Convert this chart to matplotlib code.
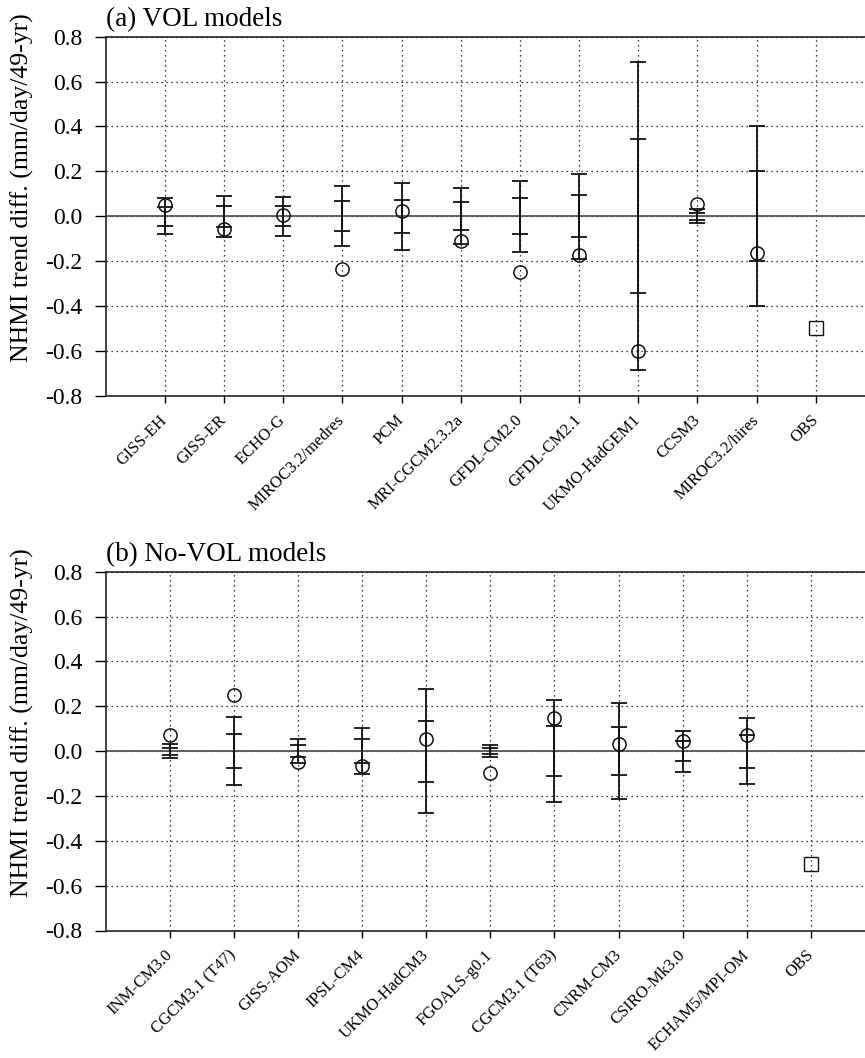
import matplotlib
matplotlib.use("Agg")
import matplotlib.pyplot as plt
import numpy as np

plt.rcParams['font.family'] = ['Liberation Serif', 'DejaVu Serif']
plt.rcParams['axes.unicode_minus'] = False

# ---- data ----
vol_models = ["GISS-EH", "GISS-ER", "ECHO-G", "MIROC3.2/medres", "PCM",
              "MRI-CGCM2.3.2a", "GFDL-CM2.0", "GFDL-CM2.1", "UKMO-HadGEM1",
              "CCSM3", "MIROC3.2/hires"]
vol_values = [0.052, -0.058, 0.006, -0.236, 0.025, -0.111, -0.250, -0.174,
              -0.599, 0.055, -0.163]
vol_outer = [0.080, 0.092, 0.087, 0.134, 0.149, 0.125, 0.158, 0.189, 0.686,
             0.030, 0.401]
vol_inner = [0.042, 0.047, 0.044, 0.067, 0.073, 0.062, 0.079, 0.094, 0.343,
             0.015, 0.200]
vol_obs = -0.50

novol_models = ["INM-CM3.0", "CGCM3.1 (T47)", "GISS-AOM", "IPSL-CM4",
                "UKMO-HadCM3", "FGOALS-g0.1", "CGCM3.1 (T63)", "CNRM-CM3",
                "CSIRO-Mk3.0", "ECHAM5/MPI-OM"]
novol_values = [0.073, 0.252, -0.050, -0.066, 0.054, -0.098, 0.146, 0.030,
                0.045, 0.070]
novol_outer = [0.030, 0.150, 0.054, 0.103, 0.276, 0.025, 0.228, 0.215, 0.091,
               0.148]
novol_inner = [0.016, 0.075, 0.028, 0.052, 0.136, 0.012, 0.113, 0.106, 0.046,
               0.074]
novol_obs = -0.504

yticks = [-0.8, -0.6, -0.4, -0.2, 0.0, 0.2, 0.4, 0.6, 0.8]
ylabel = "NHMI trend diff. (mm/day/49-yr)"

W, H = 865, 1058
fig = plt.figure(figsize=(W / 100, H / 100), dpi=100)

left = 105.7 / W
right = 875.0 / W
width = right - left
ax_w_px = 875.0 - 105.7


def panel(top_px, bot_px, models, values, outer, inner, obs, title):
    ax = fig.add_axes([left, 1 - bot_px / H, width, (bot_px - top_px) / H])
    n = len(models)
    x = np.arange(1, n + 1)
    xobs = n + 1
    labels = models + ["OBS"]
    ax.set_xlim(0, n + 2)
    ax.set_ylim(-0.8, 0.8)
    ax.axhline(0, color='#555555', lw=1.3, zorder=1)
    ax.set_xticks(list(x) + [xobs])
    ax.set_xticklabels(labels, rotation=45, ha='right', va='center',
                       rotation_mode='anchor', fontsize=12)
    ax.set_yticks(yticks)
    ax.set_yticklabels(["%.1f" % v for v in yticks], fontsize=17)
    ax.grid(True, color='black', linestyle=(0, (1, 3)), lw=0.9, zorder=0)
    ax.set_axisbelow(True)
    zeros = np.zeros(n)
    ax.errorbar(x, zeros, yerr=outer, fmt='none', ecolor='#111111',
                elinewidth=1.3, capsize=5.5, capthick=1.3, zorder=3)
    ax.errorbar(x, zeros, yerr=inner, fmt='none', ecolor='#111111',
                elinewidth=1.3, capsize=5.5, capthick=1.3, zorder=3)
    ax.plot(x, values, 'o', ms=9.5, mfc='none', mec='#111111', mew=1.1,
            zorder=4)
    ax.plot([xobs], [obs], 's', ms=10.5, mfc='none', mec='#111111', mew=1.0,
            zorder=4)
    ax.tick_params(axis='x', direction='out', length=5, width=1.0, pad=11,
                   top=False)
    ax.tick_params(axis='y', direction='out', length=8, width=1.0, pad=9,
                   right=False)
    for s in ['left', 'top', 'bottom']:
        ax.spines[s].set_linewidth(1.2)
        ax.spines[s].set_color('#222222')
    ax.spines['right'].set_visible(False)
    ax.set_ylabel(ylabel, fontsize=18.5)
    ax.yaxis.set_label_coords(-(105.7 - 34) / ax_w_px, 0.58)
    ax.text(0.0, 1.012, title, transform=ax.transAxes, fontsize=19.5,
            ha='left', va='bottom')
    return ax


panel(36.7, 395.7, vol_models, vol_values, vol_outer, vol_inner, vol_obs,
      "(a) VOL models")
panel(571.7, 930.5, novol_models, novol_values, novol_outer, novol_inner,
      novol_obs, "(b) No-VOL models")

fig.savefig("out.png", dpi=100)
